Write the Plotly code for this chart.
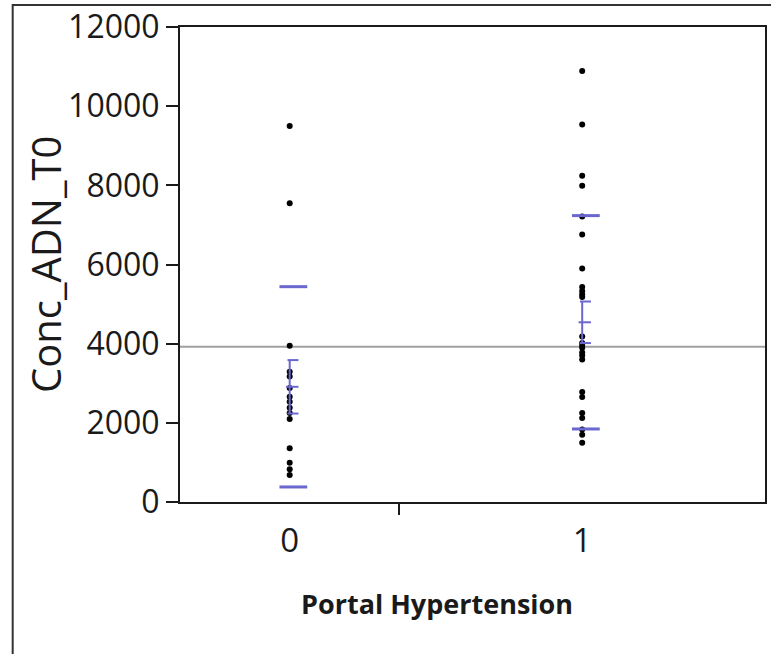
import plotly.graph_objects as go

# ---- data ----
groups = ["0", "1"]
group_n = [15, 25]
group0_values = [9500, 7550, 3950, 3290, 3170, 2880, 2660, 2530, 2380, 2250, 2100,
                 1360, 990, 830, 680]
group1_values = [10890, 9540, 8240, 7990, 7210, 6760, 5900, 5430, 5330, 5250, 5180,
                 4180, 4020, 3950, 3900, 3780, 3700, 3600, 2780, 2650, 2250, 2120,
                 1830, 1700, 1500]
group_means = [2910, 4540]
group_sds = [2530, 2695]
group_ses = [675, 525]
grand_mean = 3920
y_ticks = [0, 2000, 4000, 6000, 8000, 10000, 12000]
y_tick_labels = ["0", "2000", "4000", "6000", "8000", "10000", "12000"]

FONT = "Open Sans"
BLUE = "#6a68cf"
total_n = sum(group_n)
centers = []
acc = 0
for n in group_n:
    centers.append(acc + n / 2)
    acc += n
boundaries = [group_n[0]]

fig = go.Figure()

# grand mean line
fig.add_trace(go.Scatter(x=[0, total_n], y=[grand_mean, grand_mean], mode="lines",
                         line=dict(color="#a0a0a0", width=2), hoverinfo="skip",
                         showlegend=False))

# points
for cx, vals in zip(centers, [group0_values, group1_values]):
    fig.add_trace(go.Scatter(x=[cx] * len(vals), y=vals, mode="markers",
                             marker=dict(color="black", size=6), showlegend=False))

# means and std dev marks
for cx, m, sd, se in zip(centers, group_means, group_sds, group_ses):
    xs, ys = [], []
    for v in (m + sd, m - sd):
        xs += [cx - 0.7, cx + 1.2, None]
        ys += [v, v, None]
    fig.add_trace(go.Scatter(x=xs, y=ys, mode="lines",
                             line=dict(color=BLUE, width=3), showlegend=False,
                             hoverinfo="skip"))
    xs = [cx - 0.25, cx + 0.6, None, cx, cx, None]
    ys = [m, m, None, m - se, m + se, None]
    for v in (m - se, m + se):
        xs += [cx - 0.15, cx + 0.6, None]
        ys += [v, v, None]
    fig.add_trace(go.Scatter(x=xs, y=ys, mode="lines",
                             line=dict(color=BLUE, width=2), showlegend=False,
                             hoverinfo="skip"))

fig.update_layout(
    width=771, height=654,
    margin=dict(l=180, r=4, t=27, b=152),
    paper_bgcolor="white", plot_bgcolor="white",
    font=dict(family=FONT, color="#1a1a1a"),
    xaxis=dict(range=[0, total_n], tickvals=centers, ticktext=groups,
               ticks="outside", ticklen=8, tickcolor="rgba(0,0,0,0)",
               tickfont=dict(size=33, family=FONT), showgrid=False, zeroline=False,
               showline=True, linecolor="#1a1a1a", linewidth=2, mirror=True,
               fixedrange=True),
    xaxis2=dict(range=[0, total_n], overlaying="x", side="bottom",
                tickvals=boundaries, ticks="outside", ticklen=12, tickwidth=2,
                tickcolor="#1a1a1a", showticklabels=False, showgrid=False,
                zeroline=False, showline=False),
    yaxis=dict(range=[0, 12000], tickvals=y_ticks, ticktext=y_tick_labels,
               ticks="outside", ticklen=12, tickwidth=2, tickcolor="#1a1a1a",
               tickfont=dict(size=32, family=FONT), showgrid=False, zeroline=False,
               showline=True, linecolor="#1a1a1a", linewidth=2, mirror=True),
    annotations=[
        dict(text="Conc_ADN_T0", xref="paper", yref="paper", x=-0.23, y=0.5,
             textangle=-90, showarrow=False, font=dict(size=40, family=FONT),
             xanchor="center", yanchor="middle"),
        dict(text="<b>Portal Hypertension</b>", xref="paper", yref="paper",
             x=0.44, y=-0.213, showarrow=False, font=dict(size=27, family=FONT),
             xanchor="center", yanchor="middle"),
    ],
    shapes=[
        dict(type="rect", xref="paper", yref="paper", x0=-0.286, x1=1.2,
             y0=-0.4, y1=1.0463, line=dict(color="#333333", width=2),
             fillcolor="rgba(0,0,0,0)", layer="below"),
    ],
)
fig.add_trace(go.Scatter(x=[0], y=[0], xaxis="x2", mode="markers",
                         marker=dict(opacity=0), showlegend=False, hoverinfo="skip"))

fig.write_html("out.html")
